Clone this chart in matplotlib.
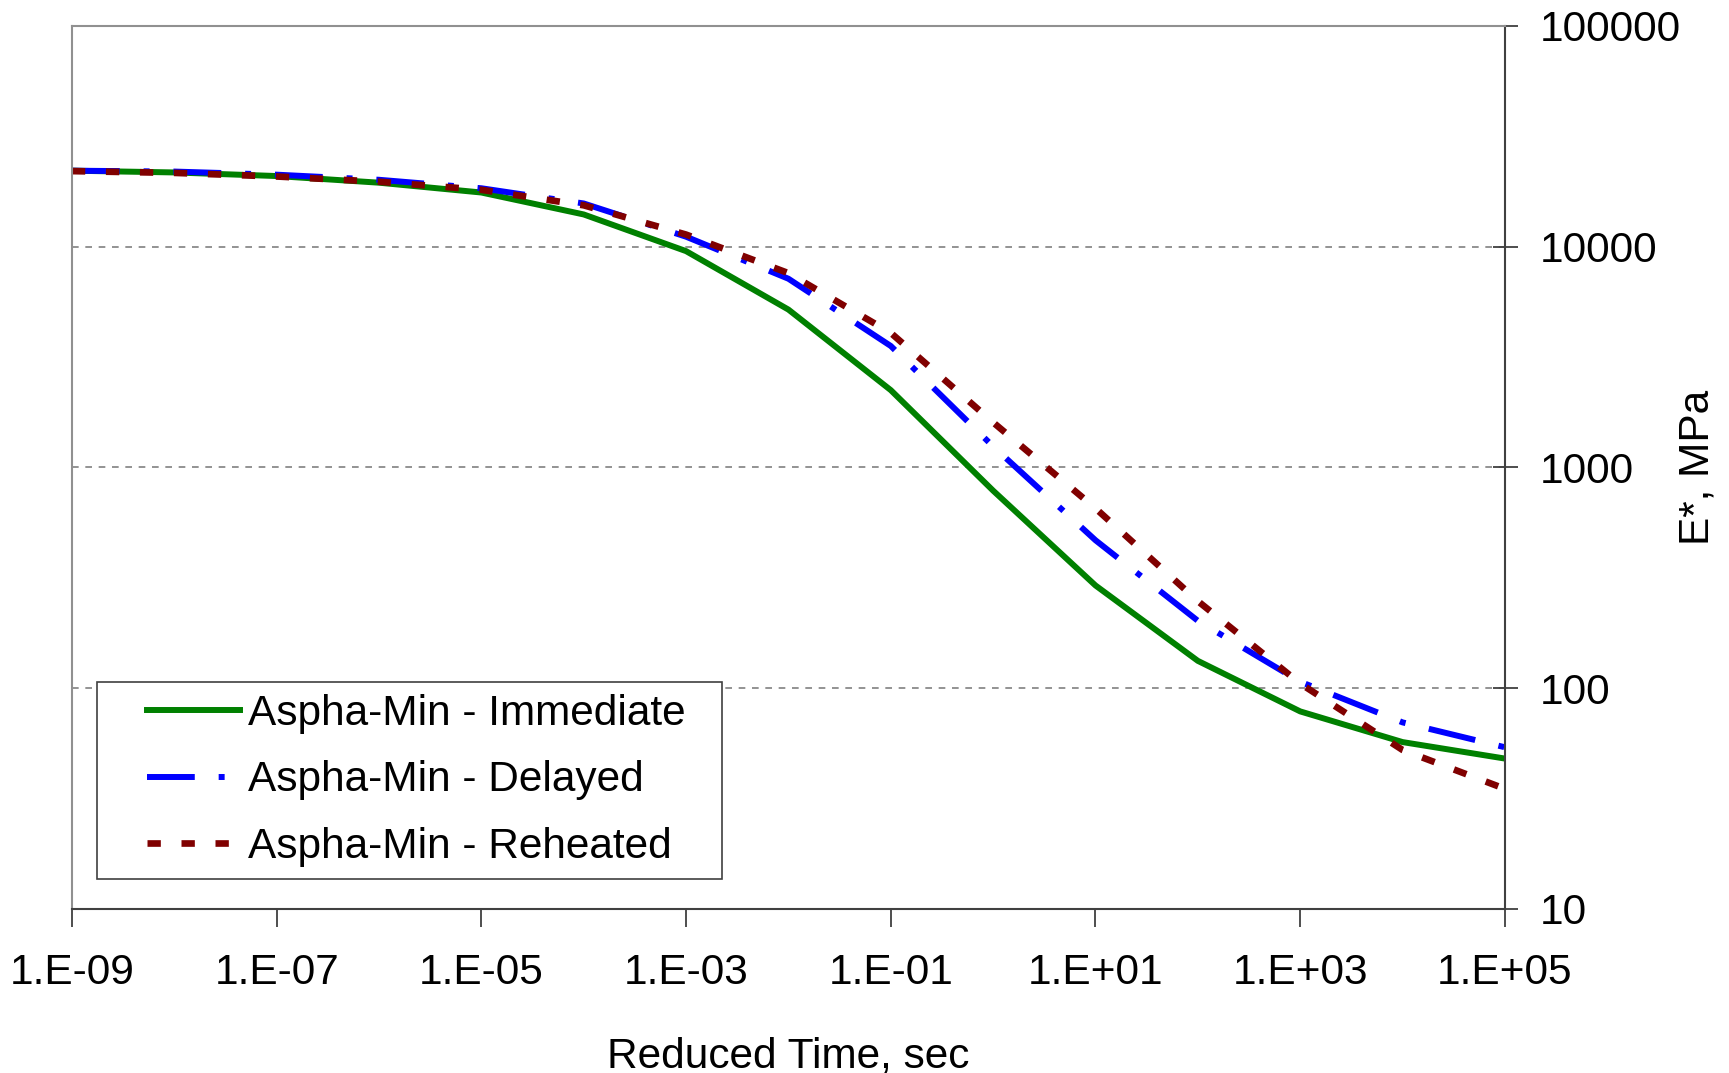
import matplotlib.pyplot as plt
from matplotlib.legend_handler import HandlerLine2D
from matplotlib.ticker import FixedLocator, NullLocator


reduced_time = [1e-9, 1e-8, 1e-7, 1e-6, 1e-5, 1e-4, 1e-3, 1e-2, 1e-1,
                1e0, 1e1, 1e2, 1e3, 1e4, 1e5]

immediate = [22100, 21700, 20900, 19500, 17600, 14000, 9550, 5190, 2240,
             785, 292, 133, 78.5, 57, 48]
delayed = [22100, 21900, 21200, 20100, 18400, 15700, 11100, 7160, 3550,
           1245, 468, 202, 107, 70, 54]
reheated = [22000, 21600, 20800, 19700, 18100, 15400, 11350, 7590, 4070,
            1600, 653, 248, 105, 52.5, 35]

x_ticks = [1e-9, 1e-7, 1e-5, 1e-3, 1e-1, 1e1, 1e3, 1e5]
x_labels = ["1.E-09", "1.E-07", "1.E-05", "1.E-03", "1.E-01", "1.E+01",
            "1.E+03", "1.E+05"]
y_ticks = [10, 100, 1000, 10000, 100000]
y_labels = ["10", "100", "1000", "10000", "100000"]

FONT = "Liberation Sans"
FONT_SIZE = 30.5


def main():
    plt.rcParams["font.family"] = FONT
    fig = plt.figure(figsize=(17.29, 10.73), dpi=100)
    ax = fig.add_axes([0.0416, 0.1529, 0.8288, 0.8229])

    ax.plot(reduced_time, immediate, color="#008000", linewidth=4.3,
            solid_joinstyle="miter", label="Aspha-Min - Immediate")
    ax.plot(reduced_time, delayed, color="#0000FF", linewidth=4.3,
            dashes=(8, 4, 1, 4), dash_capstyle="butt",
            label="Aspha-Min - Delayed")
    ax.plot(reduced_time, reheated, color="#800000", linewidth=4.8,
            dashes=(2, 3.1), dash_capstyle="butt",
            label="Aspha-Min - Reheated")

    ax.set_xscale("log")
    ax.set_yscale("log")
    ax.set_xlim(1e-9, 1e5)
    ax.set_ylim(10, 100000)

    ax.xaxis.set_major_locator(FixedLocator(x_ticks))
    ax.xaxis.set_minor_locator(NullLocator())
    ax.set_xticklabels(x_labels)
    ax.yaxis.set_major_locator(FixedLocator(y_ticks))
    ax.yaxis.set_minor_locator(NullLocator())
    ax.set_yticklabels(y_labels)

    ax.yaxis.tick_right()
    ax.yaxis.set_label_position("right")
    ax.tick_params(axis="x", direction="out", length=13, width=1.3,
                   color="#404040", labelsize=FONT_SIZE, pad=19)
    ax.tick_params(axis="y", direction="inout", length=18, width=1.3,
                   color="#404040", labelsize=FONT_SIZE, pad=16)

    for y in y_ticks[1:-1]:
        ax.axhline(y, color="#808080", linewidth=1.2, dashes=(4, 4), zorder=0)

    for side in ("left", "top"):
        ax.spines[side].set_color("#909090")
        ax.spines[side].set_linewidth(1.5)
    for side in ("right", "bottom"):
        ax.spines[side].set_color("#404040")
        ax.spines[side].set_linewidth(1.5)

    ax.set_xlabel("Reduced Time, sec", fontsize=FONT_SIZE, labelpad=31)
    ax.set_ylabel("E*, MPa", fontsize=FONT_SIZE, labelpad=-2)

    # leading gap before each legend line, like the Excel legend
    handler = HandlerLine2D(xpad=0.9)
    legend = ax.legend(loc="lower left",
                       bbox_to_anchor=(0.0174, 0.034, 0.436, 0.2224),
                       mode="expand", borderaxespad=0, fontsize=FONT_SIZE,
                       fancybox=False, framealpha=1, edgecolor="#404040",
                       handlelength=3.1, handletextpad=0.19,
                       labelspacing=0.63, borderpad=0.28,
                       handler_map={line: handler for line in ax.get_lines()})
    legend.get_frame().set_linewidth(1.2)

    fig.savefig("out.png", dpi=100)
    plt.close(fig)


if __name__ == "__main__":
    main()
